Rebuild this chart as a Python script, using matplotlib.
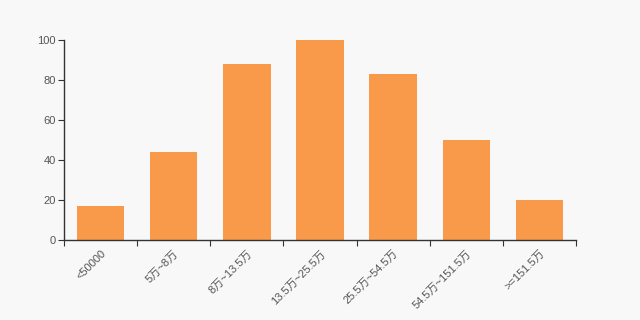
import matplotlib
matplotlib.use("Agg")
import matplotlib.pyplot as plt
import numpy as np

plt.rcParams['font.family'] = ['Liberation Sans', 'Noto Sans CJK SC', 'DejaVu Sans']

categories = ["<50000", "5万~8万", "8万~13.5万", "13.5万~25.5万", "25.5万~54.5万", "54.5万~151.5万", ">=151.5万"]
values = [17, 44, 88, 100, 83, 50, 20]

bg = '#f8f8f8'
fig = plt.figure(figsize=(6.4, 3.2), dpi=100, facecolor=bg)
ax = fig.add_axes([0.1, 0.25, 0.8, 0.625], facecolor=bg)

x = np.arange(len(categories))
ax.bar(x, values, width=0.65, color='#f89a4a', zorder=2)
ax.set_xlim(-0.5, len(categories) - 0.5)
ax.set_ylim(0, 100)
ax.set_yticks([0, 20, 40, 60, 80, 100])
ax.set_xticks(np.arange(-0.5, len(categories), 1.0))
ax.set_xticklabels([])
ax.set_xticks(x, minor=True)
ax.set_xticklabels(categories, minor=True, rotation=45, ha='right', va='top',
                   rotation_mode='anchor', fontsize=8, color='#555555')
ax.tick_params(axis='x', which='minor', length=0, pad=6)
ax.tick_params(axis='x', which='major', length=4, color='#333333')
ax.tick_params(axis='y', length=4, color='#333333', labelsize=8, labelcolor='#555555', pad=2)

for s in ['top', 'right']:
    ax.spines[s].set_visible(False)
for s in ['left', 'bottom']:
    ax.spines[s].set_color('#333333')
    ax.spines[s].set_linewidth(1)

fig.savefig('out.png', dpi=100, facecolor=bg)
